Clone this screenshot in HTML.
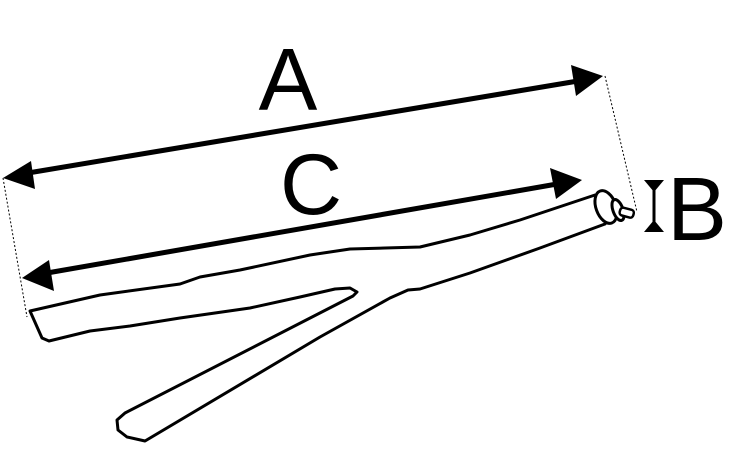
<!DOCTYPE html>
<html><head><style>html,body{margin:0;padding:0;background:#fff}</style></head>
<body>
<svg width="730" height="470" viewBox="0 0 730 470" xmlns="http://www.w3.org/2000/svg">
<g font-family="Liberation Sans, sans-serif" fill="#000">
<text x="288" y="110" font-size="88" text-anchor="middle">A</text>
<text x="311" y="214" font-size="86" text-anchor="middle">C</text>
<text x="697" y="240" font-size="90" text-anchor="middle">B</text>
</g>
<line x1="3" y1="178" x2="27" y2="317" stroke="#000" stroke-width="1" stroke-dasharray="2,2"/>
<line x1="605" y1="76" x2="637" y2="212" stroke="#000" stroke-width="1" stroke-dasharray="2,2"/>
<line x1="28" y1="173" x2="578" y2="81" stroke="#000" stroke-width="5"/>
<polygon points="3,178 31,161 35,189" fill="#000"/>
<polygon points="603,76 571,65 576,96" fill="#000"/>
<line x1="47" y1="273" x2="557" y2="184" stroke="#000" stroke-width="5"/>
<polygon points="22,278 49,260 54,291" fill="#000"/>
<polygon points="582,180 550,168 556,199" fill="#000"/>
<path d="M30,311 L42,338 L49,341 L90,331 L130,326 L180,318 L250,308 L300,297 L335,289 L350,288 L357,292 L353,296 L125,413 L117,420 L118,430 L127,437 L145,441 L320,337 L390,298 L408,290 L420,289 L470,273 L540,248 L605,224 L612,214 L605,198 L595,195 L520,220 L470,235 L420,247 L385,248 L350,249 L310,255 L240,270 L200,277 L180,284 L100,295 Z" fill="#fff" stroke="#000" stroke-width="3" stroke-linejoin="round"/>
<ellipse cx="606" cy="207" rx="10" ry="17" transform="rotate(-20 606 207)" fill="#fff" stroke="#000" stroke-width="3"/>
<ellipse cx="618" cy="210" rx="5" ry="11" transform="rotate(-20 618 210)" fill="#fff" stroke="#000" stroke-width="3"/>
<rect x="621" y="207" width="14" height="8" rx="3" transform="rotate(15 621 207)" fill="#fff" stroke="#000" stroke-width="2.5"/>
<polygon points="644,180 664,180 654,192" fill="#000"/>
<polygon points="644,232 664,232 654,220" fill="#000"/>
<line x1="654" y1="188" x2="654" y2="224" stroke="#000" stroke-width="3"/>
</svg>
</body></html>
